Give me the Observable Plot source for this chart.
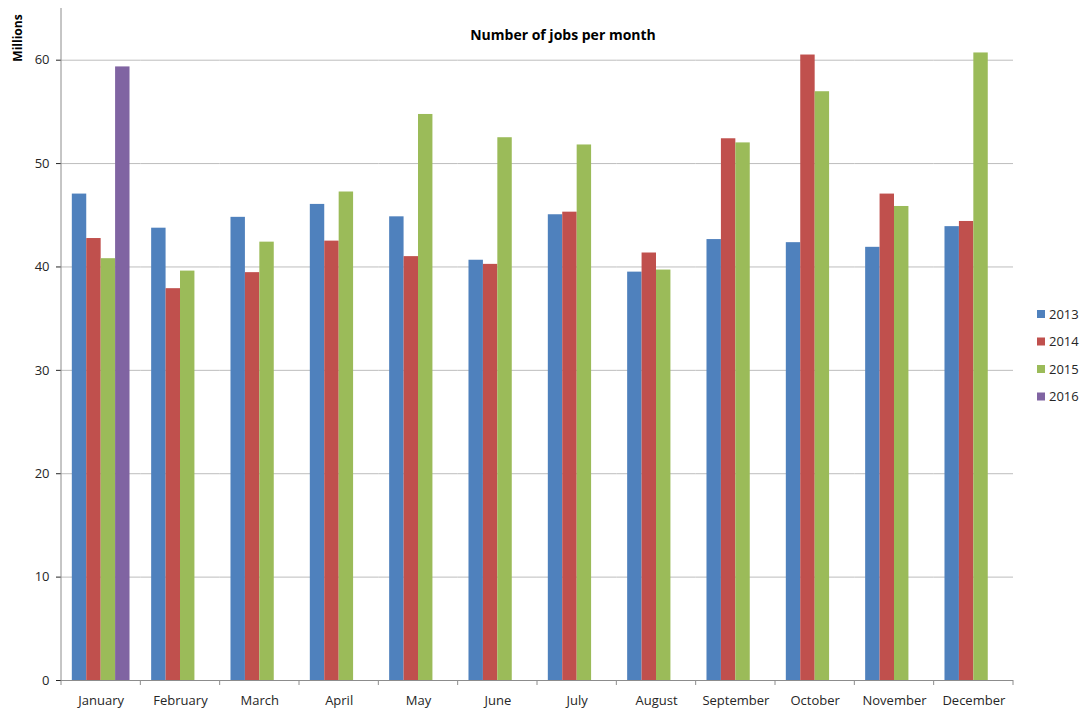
<!DOCTYPE html>
<html>
<head>
<meta charset="utf-8">
<script src="https://cdn.jsdelivr.net/npm/d3@7"></script>
<script src="https://cdn.jsdelivr.net/npm/@observablehq/plot@0.6"></script>
<style>
  body { margin: 0; background: #fff; }
  #chart { width: 1081px; height: 709px; }
  g[aria-label="y-axis tick"] { stroke: #8c8c8c; }
</style>
</head>
<body>
<div id="chart"></div>
<script>
const title = "Number of jobs per month";
const yLabel = "Millions";
const months = ["January","February","March","April","May","June","July","August","September","October","November","December"];
const years = ["2013","2014","2015","2016"];
const colors = ["#4F81BD","#C0504D","#9BBB59","#8064A2"];
const jobs2013 = [47.05,43.75,44.8,46.05,44.85,40.65,45.05,39.5,42.65,42.35,41.9,43.9];
const jobs2014 = [42.75,37.9,39.45,42.5,41.0,40.25,45.3,41.35,52.4,60.5,47.05,44.4];
const jobs2015 = [40.8,39.6,42.4,47.25,54.75,52.5,51.8,39.7,52.0,56.95,45.85,60.7];
const jobs2016 = [59.35,null,null,null,null,null,null,null,null,null,null,null];
const yTicks = [0,10,20,30,40,50,60];

const series = [jobs2013, jobs2014, jobs2015, jobs2016];
const rows = months.flatMap((m, i) => years.map((yr, j) => ({month: m, year: yr, value: series[j][i]})))
  .filter(d => d.value != null);

const chart = Plot.plot({
  width: 1081, height: 709,
  marginLeft: 61, marginRight: 68, marginTop: 8, marginBottom: 29,
  style: {fontFamily: "'Open Sans', sans-serif", fontSize: "13px", color: "#262626", background: "white"},
  facet: {data: rows, x: "month"},
  fx: {domain: months, padding: 0, round: false, label: null, tickSize: 0, tickPadding: 15, axis: "bottom"},
  x: {domain: years, paddingInner: 0, paddingOuter: 0.75, round: false, axis: null},
  y: {domain: [0, 65], ticks: yTicks, tickSize: 5, tickPadding: 7, label: null},
  color: {domain: years, range: colors},
  marks: [
    Plot.ruleY(yTicks.filter(t => t > 0), {stroke: "#bdbdbd"}),
    Plot.barY(rows, {x: "year", y: "value", fill: "year"}),
    Plot.ruleY([0], {stroke: "#8c8c8c"})
  ]
});
document.getElementById("chart").appendChild(chart);

const svg = d3.select(chart);
const fxs = chart.scale("fx"), ys = chart.scale("y");
const y0 = ys.apply(0), yTop = ys.apply(65);
const edges = months.map(m => fxs.apply(m)).concat([fxs.apply(months[months.length - 1]) + fxs.bandwidth]);
const deco = svg.append("g").attr("text-anchor", "start");
deco.append("line").attr("x1", edges[0]).attr("x2", edges[0]).attr("y1", yTop).attr("y2", y0).attr("stroke", "#8c8c8c");
deco.selectAll("line.tk").data(edges).join("line").attr("class", "tk")
  .attr("x1", d => d).attr("x2", d => d).attr("y1", y0).attr("y2", y0 + 5).attr("stroke", "#8c8c8c");

deco.append("text").text(title)
  .attr("x", 563).attr("y", 40).attr("text-anchor", "middle")
  .attr("font-weight", "bold").attr("font-size", 14).attr("fill", "#000");
deco.append("text").text(yLabel)
  .attr("transform", "translate(22,38) rotate(-90)").attr("text-anchor", "middle")
  .attr("font-weight", "bold").attr("font-size", 12).attr("fill", "#000");

const leg = deco.append("g");
years.forEach((yr, i) => {
  const cy = 314 + i * 27.5;
  leg.append("rect").attr("x", 1037).attr("y", cy - 4).attr("width", 8).attr("height", 8).attr("fill", colors[i]);
  leg.append("text").text(yr).attr("x", 1049).attr("y", cy + 4.5).attr("text-anchor", "start")
    .attr("font-size", 13).attr("fill", "#262626");
});
</script>
</body>
</html>
